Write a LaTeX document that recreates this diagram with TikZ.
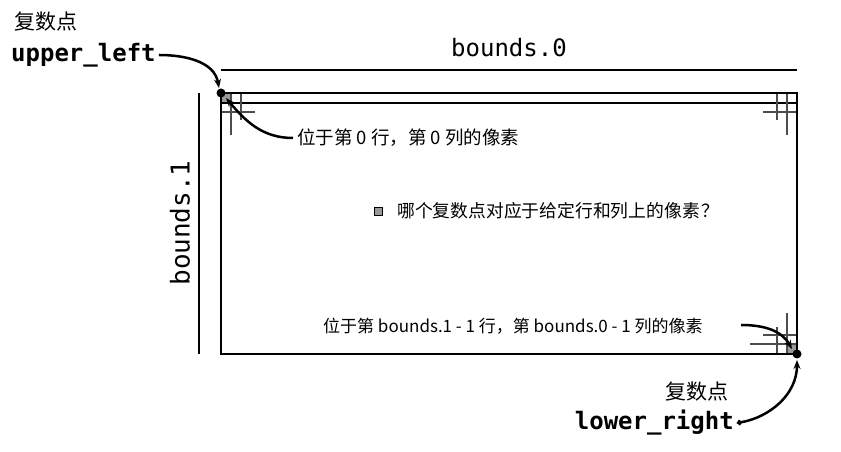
\documentclass[tikz,border=0pt]{standalone}
\usepackage{fontspec}
\setmainfont{Noto Sans CJK SC}
\newfontfamily\codefont{DejaVu Sans Mono}
\usetikzlibrary{arrows.meta,positioning}

\begin{document}
\begin{tikzpicture}[x=1pt,y=1pt,>={Stealth[length=9pt,width=7pt]},
  lbl/.style={inner sep=0pt,font=\fontsize{17}{20}\selectfont},
  big/.style={inner sep=0pt,font=\fontsize{21}{24}\selectfont},
  code/.style={inner sep=0pt,font=\codefont\bfseries\fontsize{24}{27}\selectfont},
  mono/.style={inner sep=0pt,font=\codefont\fontsize{24}{27}\selectfont},
  ptr/.style={line width=2.5pt,->},
  gridln/.style={line width=1.1pt,black!70},
  pix/.style={fill=black!40,minimum size=10pt,inner sep=0pt}]
\useasboundingbox (0,0) rectangle (841,452);
% corners of the plane
\coordinate (ul) at (221,359);
\coordinate (lr) at (797,98);
\node[pix] (p0) at (226,354) {};
\node[pix] (pn) at (792,103) {};
% pixel grid near the corners
\draw[line width=1.3pt] (221,349) -- (797,349);
\draw[gridln] (231,359) -- (231,317) (241,359) -- (241,332) (221,340) -- (255,340);
\draw[gridln] (787,359) -- (787,317) (777,359) -- (777,332) (763,340) -- (797,340);
\draw[gridln] (787,139) -- (787,98) (777,125) -- (777,98) (750,108) -- (797,108) (763,117) -- (797,117);
\draw[line width=2.7pt] (ul) rectangle (lr);
\fill (ul) circle (4.5pt);
\fill (lr) circle (4.5pt);
% bounds
\node[mono] (b0) at (509,404) {bounds.0};
\draw[line width=2.7pt] (221,382) -- (797,382);
\node[mono,font=\codefont\fontsize{26}{29}\selectfont,rotate=90] (b1) at (180,229) {bounds.1};
\draw[line width=2.7pt] (199,359) -- (199,98);
% labels
\node[big,anchor=west] (cpa) at (14,430) {复数点};
\node[code,anchor=west] (upl) at (11,397) {upper\_left};
\node[lbl,font=\fontsize{18.5}{21}\selectfont,anchor=west] (t0) at (297,314) {位于第 0 行，第 0 列的像素};
\node[draw,fill=black!40,line width=0.8pt,minimum size=8pt,inner sep=0pt] (key) at (378,241) {};
\node[lbl,font=\fontsize{17.8}{21}\selectfont,anchor=west] (q) at (397,241) {哪个复数点对应于给定行和列上的像素\hspace{2pt}？};
\node[lbl,anchor=west] (tn) at (323,126) {位于第 bounds.1 - 1 行，第 bounds.0 - 1 列的像素};
\coordinate (tnend) at (741,127);
\node[big,anchor=east] (cpb) at (729,60) {复数点};
\node[code,anchor=east] (lwr) at (734,29) {lower\_right};
% arrows
\draw[ptr] ([xshift=3pt]upl.east) to[out=0,in=100] ([xshift=-2pt,yshift=5pt]ul);
\draw[ptr] ([xshift=-4pt]t0.west) to[out=180,in=-50] (p0.center);
\draw[ptr] (tnend) to[out=0,in=120] (pn.center);
\draw[ptr,{Circle[length=5pt]}->] ([xshift=3pt]lwr.east) to[out=10,in=-90] ([yshift=-6pt]lr);
\end{tikzpicture}
\end{document}
